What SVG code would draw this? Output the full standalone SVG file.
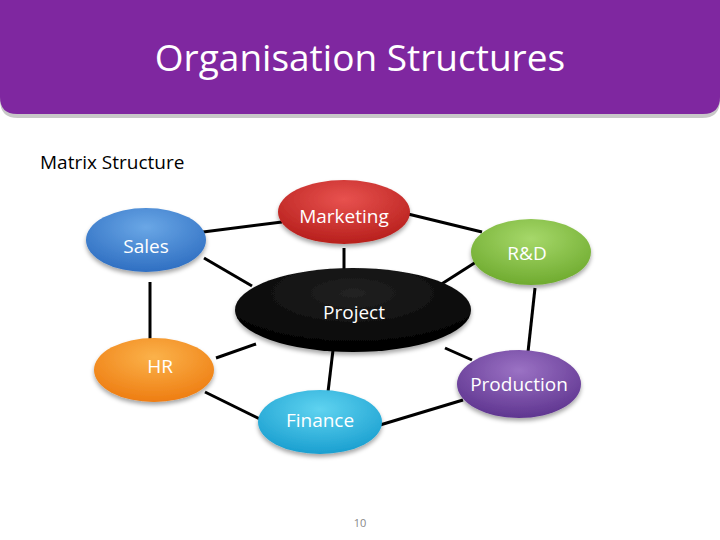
<svg xmlns="http://www.w3.org/2000/svg" width="720" height="540" viewBox="0 0 720 540">
<defs>
<radialGradient id="gRed" cx="50%" cy="30%" r="70%"><stop offset="0" stop-color="#e8524f"/><stop offset="1" stop-color="#b71f1c"/></radialGradient>
<radialGradient id="gBlue" cx="50%" cy="30%" r="70%"><stop offset="0" stop-color="#6aa7e6"/><stop offset="1" stop-color="#2f6fc2"/></radialGradient>
<radialGradient id="gGreen" cx="50%" cy="30%" r="70%"><stop offset="0" stop-color="#a6d86a"/><stop offset="1" stop-color="#6fab2f"/></radialGradient>
<radialGradient id="gBlack" cx="50%" cy="30%" r="70%"><stop offset="0" stop-color="#222"/><stop offset="1" stop-color="#000"/></radialGradient>
<radialGradient id="gOrange" cx="50%" cy="30%" r="70%"><stop offset="0" stop-color="#fbb24a"/><stop offset="1" stop-color="#ee7d12"/></radialGradient>
<radialGradient id="gPurple" cx="50%" cy="30%" r="70%"><stop offset="0" stop-color="#9b72c4"/><stop offset="1" stop-color="#5f3590"/></radialGradient>
<radialGradient id="gCyan" cx="50%" cy="30%" r="70%"><stop offset="0" stop-color="#5fd3f0"/><stop offset="1" stop-color="#1a9fd0"/></radialGradient>
<filter id="sh" x="-20%" y="-20%" width="140%" height="150%"><feDropShadow dx="0" dy="3" stdDeviation="2" flood-color="#000" flood-opacity="0.35"/></filter>
</defs>
<style>
text{font-family:"Open Sans","DejaVu Sans",sans-serif;}
.lbl{font-size:19px;fill:#fff;text-anchor:middle;}
.edge{stroke:#000;stroke-width:3;fill:none;}
</style>
<rect width="720" height="540" fill="#fff"/>
<g id="header">
<path d="M0 0H720V100Q720 118 702 118H18Q0 118 0 100Z" fill="#c8c8c8"/>
<path d="M0 0H720V97Q720 114 703 114H17Q0 114 0 97Z" fill="#7f27a0"/>
<text x="360" y="71" font-size="37" fill="#fff" text-anchor="middle">Organisation Structures</text>
</g>
<text x="40" y="169" font-size="19" fill="#000">Matrix Structure</text>
<g id="connectors">
<line class="edge" x1="203" y1="232" x2="282" y2="222"/>
<line class="edge" x1="408" y1="214" x2="482" y2="232"/>
<line class="edge" x1="344" y1="248" x2="344" y2="272"/>
<line class="edge" x1="150" y1="282" x2="150" y2="340"/>
<line class="edge" x1="535" y1="288" x2="528" y2="352"/>
<line class="edge" x1="204" y1="258" x2="252" y2="286"/>
<line class="edge" x1="476" y1="262" x2="440" y2="285"/>
<line class="edge" x1="216" y1="358" x2="256" y2="344"/>
<line class="edge" x1="472" y1="360" x2="445" y2="348"/>
<line class="edge" x1="333" y1="350" x2="328" y2="392"/>
<line class="edge" x1="205" y1="392" x2="266" y2="422"/>
<line class="edge" x1="380" y1="425" x2="463" y2="400"/>
</g>
<g id="marketing"><ellipse cx="344" cy="212" rx="66" ry="32" fill="url(#gRed)" filter="url(#sh)"/><text class="lbl" x="344" y="223">Marketing</text></g>
<g id="sales"><ellipse cx="146" cy="240" rx="60" ry="32" fill="url(#gBlue)" filter="url(#sh)"/><text class="lbl" x="146" y="253">Sales</text></g>
<g id="rd"><ellipse cx="531" cy="252" rx="60" ry="33" fill="url(#gGreen)" filter="url(#sh)"/><text class="lbl" x="527" y="260">R&amp;D</text></g>
<g id="project"><ellipse cx="353" cy="310" rx="118" ry="42" fill="url(#gBlack)" filter="url(#sh)"/><text class="lbl" x="354" y="319">Project</text></g>
<g id="hr"><ellipse cx="154" cy="370" rx="60" ry="32" fill="url(#gOrange)" filter="url(#sh)"/><text class="lbl" x="160" y="373">HR</text></g>
<g id="production"><ellipse cx="519" cy="384" rx="62" ry="34" fill="url(#gPurple)" filter="url(#sh)"/><text class="lbl" x="519" y="391">Production</text></g>
<g id="finance"><ellipse cx="320" cy="422" rx="62" ry="32" fill="url(#gCyan)" filter="url(#sh)"/><text class="lbl" x="320" y="427">Finance</text></g>
<text x="360" y="527" font-size="11" fill="#888" text-anchor="middle">10</text>
</svg>
